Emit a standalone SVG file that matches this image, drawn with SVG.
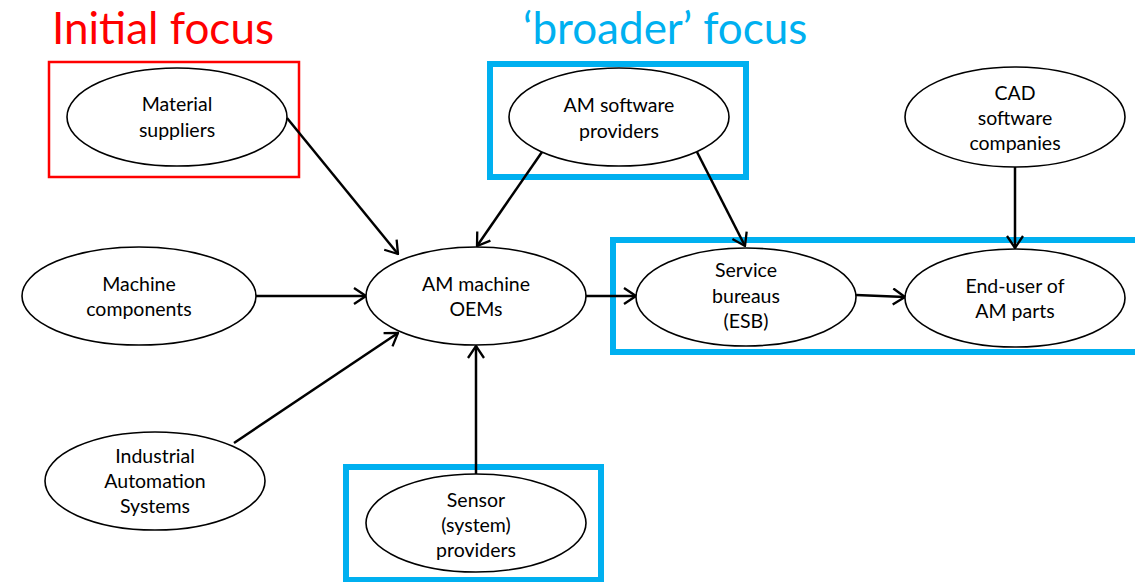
<svg xmlns="http://www.w3.org/2000/svg" width="1135" height="582" viewBox="0 0 1135 582">
<style>
  .node ellipse { fill: #fff; stroke: #000; stroke-width: 1.6; }
  .node text { font-family: Lato, "Open Sans", "Liberation Sans", sans-serif; font-size: 19.5px; fill: #000; text-anchor: middle; }
  .title { font-family: Lato, "Open Sans", "Liberation Sans", sans-serif; font-size: 44px; }
  .conn line { stroke: #000; stroke-width: 2.5; marker-end: url(#arr); }
  .frame { fill: none; }
</style>
<defs>
  <marker id="arr" viewBox="0 0 14 18" refX="13" refY="9" markerWidth="14" markerHeight="18" markerUnits="userSpaceOnUse" orient="auto">
    <path d="M1,1 L13,9 L1,17" fill="none" stroke="#000" stroke-width="2.3"/>
  </marker>
</defs>
<rect width="1135" height="582" fill="#fff"/>

<text class="title" x="52" y="44" fill="#FF0000">Initial focus</text>
<text class="title" x="523" y="44" fill="#00B0F0">‘broader’ focus</text>

<g id="frames">
  <rect class="frame" x="49" y="62" width="250" height="115" stroke="#FF0000" stroke-width="2.5"/>
  <rect class="frame" x="490" y="64" width="256" height="113" stroke="#00B0F0" stroke-width="6"/>
  <rect class="frame" x="613" y="240" width="530" height="112" stroke="#00B0F0" stroke-width="6"/>
  <rect class="frame" x="346" y="467" width="255" height="113" stroke="#00B0F0" stroke-width="6"/>
</g>

<g id="connectors" class="conn">
  <line x1="287" y1="118" x2="398" y2="254"/>
  <line x1="542" y1="152" x2="477" y2="246"/>
  <line x1="697" y1="152" x2="745" y2="246"/>
  <line x1="1015" y1="167" x2="1015" y2="248"/>
  <line x1="256" y1="296" x2="366" y2="296"/>
  <line x1="586" y1="296" x2="636" y2="296"/>
  <line x1="856" y1="295" x2="905" y2="297"/>
  <line x1="234" y1="443" x2="398" y2="333"/>
  <line x1="476" y1="474" x2="476" y2="346"/>
</g>

<g id="material-suppliers" class="node">
  <ellipse cx="177" cy="117" rx="110" ry="49"/>
  <text x="177" y="111">Material</text>
  <text x="177" y="137">suppliers</text>
</g>
<g id="am-software-providers" class="node">
  <ellipse cx="619" cy="117" rx="110" ry="49"/>
  <text x="619" y="112">AM software</text>
  <text x="619" y="138">providers</text>
</g>
<g id="cad-software-companies" class="node">
  <ellipse cx="1015" cy="117" rx="110" ry="50"/>
  <text x="1015" y="100">CAD</text>
  <text x="1015" y="125">software</text>
  <text x="1015" y="150">companies</text>
</g>
<g id="machine-components" class="node">
  <ellipse cx="139" cy="296" rx="117" ry="49"/>
  <text x="139" y="291">Machine</text>
  <text x="139" y="316">components</text>
</g>
<g id="am-machine-oems" class="node">
  <ellipse cx="476" cy="296" rx="110" ry="49"/>
  <text x="476" y="291">AM machine</text>
  <text x="476" y="316">OEMs</text>
</g>
<g id="service-bureaus" class="node">
  <ellipse cx="746" cy="297" rx="110" ry="49"/>
  <text x="746" y="277">Service</text>
  <text x="746" y="303">bureaus</text>
  <text x="746" y="328">(ESB)</text>
</g>
<g id="end-user" class="node">
  <ellipse cx="1015" cy="298" rx="110" ry="49"/>
  <text x="1015" y="293">End-user of</text>
  <text x="1015" y="318">AM parts</text>
</g>
<g id="industrial-automation-systems" class="node">
  <ellipse cx="155" cy="481" rx="110" ry="49"/>
  <text x="155" y="463">Industrial</text>
  <text x="155" y="488">Automation</text>
  <text x="155" y="513">Systems</text>
</g>
<g id="sensor-providers" class="node">
  <ellipse cx="476" cy="523" rx="110" ry="49"/>
  <text x="476" y="507">Sensor</text>
  <text x="476" y="532">(system)</text>
  <text x="476" y="557">providers</text>
</g>
</svg>
